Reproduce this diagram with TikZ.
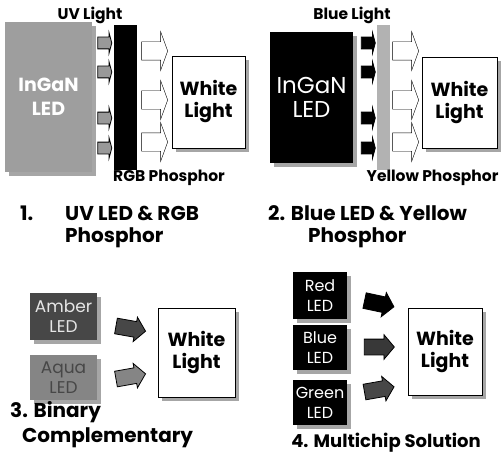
\documentclass[tikz,border=0pt]{standalone}
\usepackage{fontspec}
\setmainfont{Poppins}
\usetikzlibrary{shapes.arrows}
\usetikzlibrary{backgrounds}

\tikzset{
    ledbox/.style={inner sep=0pt, align=center, text=white, font=\fontsize{20}{24}\selectfont},
    chipbox/.style={ledbox, font=\fontsize{16}{20}\selectfont},
    whitebox/.style={draw, thick, fill=white, inner sep=0pt, align=center, font=\bfseries\fontsize{19}{22}\selectfont},
    dropshade/.style={fill=black!35},
    tag/.style={font=\bfseries\fontsize{15.5}{18}\selectfont, inner sep=0pt},
    caption/.style={font=\bfseries\fontsize{20}{24}\selectfont, inner sep=0pt, anchor=west},
    smallarrow/.style={single arrow, draw, thick, inner xsep=0pt, inner ysep=5.5pt, minimum width=0pt, minimum height=14pt, single arrow head extend=4.5pt, single arrow tip angle=150},
    bigarrow/.style={single arrow, draw, fill=white, inner xsep=0pt, inner ysep=9pt, minimum width=0pt, minimum height=26pt, single arrow head extend=10pt, single arrow tip angle=140},
    chiparrow/.style={single arrow, draw, thick, inner xsep=0pt, inner ysep=7.5pt, minimum width=0pt, minimum height=30pt, single arrow head extend=4.5pt, single arrow tip angle=100},
}

\begin{document}
\begin{tikzpicture}[x=1pt, y=-1pt]
    \useasboundingbox (0,0) rectangle (502,468);

    % 1. UV LED
    \node [ledbox, fill=black!38, minimum width=87pt, minimum height=150pt, font=\bfseries\fontsize{19}{24}\selectfont] (uvled) at (48.5, 97) {InGaN\\LED};
    \node [tag] (uvlight) at (90, 15) {UV Light};
    \foreach \y [count=\i] in {43, 72, 118, 148}
        \node [smallarrow, fill=black!40] (uv\i) at (104, \y) {};
    \node [fill=black, inner sep=0pt, minimum width=23pt, minimum height=145pt] (rgbbar) at (125.5, 97.5) {};
    \foreach \y [count=\i] in {51, 100, 142}
        \node [bigarrow] (wa\i) at (153, \y) {};
    \node [whitebox, minimum width=73pt, minimum height=92pt] (white1) at (208.5, 102) {White\\Light};
    \node [tag] (rgb) at (169, 178) {RGB Phosphor};
    \node [caption] (cap1a) at (20, 213) {1.};
    \node [caption] (cap1b) at (65, 213) {UV LED \& RGB};
    \node [caption] (cap1c) at (65, 238) {Phosphor};

    % 2. Blue LED
    \begin{scope}[shift={(250,0)}]
    \node [ledbox, fill=black, minimum width=83pt, minimum height=131pt, font=\fontsize{23}{24}\selectfont] (blueled) at (61.5, 97.5) {InGaN\\LED};
    \node [tag] (bluelight) at (102, 15) {Blue Light};
    \foreach \y [count=\i] in {43, 72, 118, 148}
        \node [smallarrow, fill=black] (bl\i) at (117.5, \y) {};
    \node [fill=black!30, inner sep=0pt, minimum width=13pt, minimum height=145pt] (yellowbar) at (133.5, 97.5) {};
    \foreach \y [count=\i] in {51, 100, 142}
        \node [bigarrow] (wb\i) at (154, \y) {};
    \node [whitebox, minimum width=75pt, minimum height=91pt] (white2) at (209.5, 102.5) {White\\Light};
    \node [tag] (yellow) at (182.5, 178) {Yellow Phosphor};
    \node [caption] (cap2a) at (18, 213) {2. Blue LED \& Yellow};
    \node [caption] (cap2b) at (58, 238) {Phosphor};
    \end{scope}

    % 3. Binary
    \begin{scope}[shift={(0,250)}]
    \node [chipbox, fill=black!72, text=black!10, minimum width=67pt, minimum height=47pt, font=\fontsize{17}{20}\selectfont] (amber) at (63.5, 66.5) {Amber\\LED};
    \node [chipbox, fill=black!48, text=black!72, minimum width=67pt, minimum height=45pt, font=\fontsize{17}{20}\selectfont] (aqua) at (63.5, 127.5) {Aqua\\LED};
    \node [chiparrow, fill=black!72, rotate=-10] (amberarrow) at (127.5, 78) {};
    \node [chiparrow, fill=black!48, rotate=10] (aquaarrow) at (127.5, 127) {};
    \node [whitebox, minimum width=77pt, minimum height=89pt] (white3) at (196.5, 102.5) {White\\Light};
    \node [caption] (cap3a) at (10, 162) {3. Binary};
    \node [caption] (cap3b) at (22, 188) {Complementary};
    \end{scope}

    % 4. Multichip
    \begin{scope}[shift={(250,250)}]
    \node [chipbox, fill=black, minimum width=54pt, minimum height=47pt] (red) at (70, 45.5) {Red\\LED};
    \node [chipbox, fill=black, minimum width=54pt, minimum height=45pt] (blue) at (70, 97.5) {Blue\\LED};
    \node [chipbox, fill=black, minimum width=54pt, minimum height=45pt] (green) at (70, 152.5) {Green\\LED};
    \node [chiparrow, fill=black, rotate=-12] (redarrow) at (126, 53) {};
    \node [chiparrow, fill=black!78] (bluearrow) at (126, 97) {};
    \node [chiparrow, fill=black!72, rotate=10] (greenarrow) at (126, 140) {};
    \node [whitebox, minimum width=74pt, minimum height=87pt] (white4) at (195, 101.5) {White\\Light};
    \node [caption, anchor=center, font=\bfseries\fontsize{18}{22}\selectfont] (cap4) at (136, 193) {4. Multichip Solution};
    \end{scope}

    % shadows
    \begin{scope}[on background layer]
    \foreach \n in {uvled, white1, blueled, white2, amber, aqua, white3, red, blue, green, white4}
        \fill [dropshade] ([xshift=4pt, yshift=-4pt]\n.north west) rectangle ([xshift=4pt, yshift=-4pt]\n.south east);
    \end{scope}
\end{tikzpicture}
\end{document}
